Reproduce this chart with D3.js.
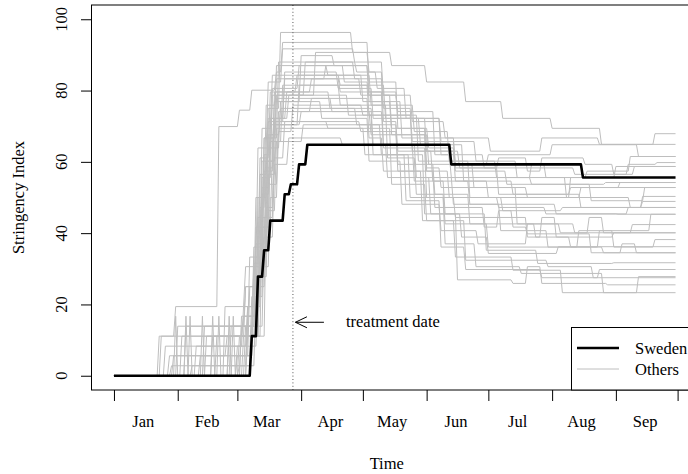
<!DOCTYPE html>
<html><head><meta charset="utf-8">
<script src="https://cdn.jsdelivr.net/npm/d3@7"></script>
<style>
html,body{margin:0;padding:0;background:#fff;}
svg{display:block;}
text{font-family:"Liberation Serif","Times New Roman",serif;fill:#000;}
</style></head>
<body><svg id="chart" width="688" height="474"></svg>
<script>
// ---------- data ----------
const startDate = "2020-01-01";
const endDate = "2020-09-30";
const treatmentDate = "2020-03-28";
const monthLabels = ["Jan","Feb","Mar","Apr","May","Jun","Jul","Aug","Sep"];
const yTicks = [0,20,40,60,80,100];
const arrowValue = 15;

// change points: [date (MM-DD, 2020), new value]; value is 0 before the first change
const sweden = [["03-08",11.1],["03-11",27.8],["03-14",35.2],["03-17",43.5],["03-24",50.9],["03-27",53.7],["03-31",59.3],["04-04",64.8],["06-13",59.3],["08-16",55.6]];

const others = [
 [["01-23",11.1],["01-31",19.4],["02-21",69.9],["03-02",74.5],["03-08",80.1],["03-20",85.2],["03-23",93.5],["05-04",82.4],["05-18",69.4],["06-02",63.9],["06-15",57.4],["07-10",53.7],["08-20",49.1],["09-15",52.8]],
 [["02-03",11.1],["03-05",25],["03-12",56.5],["03-16",75],["03-22",96.3],["04-26",90.7],["05-04",85.2],["05-11",75],["05-25",65.7],["06-15",58.3],["07-06",50.9],["08-15",47.2],["09-14",50.3]],
 [["01-31",16.7],["02-01",0],["02-07",16.7],["02-08",0],["02-13",16.7],["02-14",0],["02-21",16.7],["02-22",0],["02-28",16.7],["02-29",0],["03-06",19.4],["03-13",41.7],["03-17",72.2],["03-24",83.3],["04-20",79.6],["05-11",63.9],["06-01",50],["06-15",44.4],["07-20",38.9],["07-27",44.4],["08-03",38.9],["08-10",36.1],["08-24",40.7],["08-31",36.1],["09-20",38.2]],
 [["01-24",11.1],["03-04",16.7],["03-11",38.9],["03-14",62],["03-18",78.7],["04-03",88],["04-27",83.3],["05-11",71.3],["05-18",63],["06-04",54.6],["06-22",48.1],["08-03",45.4],["09-07",47.2]],
 [["01-28",5.6],["02-25",11.1],["03-09",30.6],["03-13",52.8],["03-17",70.4],["03-31",81.5],["04-20",75.9],["05-13",61.1],["05-27",50.9],["06-10",42.6],["07-01",36.1],["08-14",40.7],["09-18",45.3]],
 [["02-05",13.9],["03-10",33.3],["03-16",67.6],["03-20",87],["04-14",84.3],["05-01",76.9],["05-15",67.6],["06-01",58.3],["06-08",52.8],["07-15",42.6],["08-05",40.1],["08-19",44.4],["08-26",40.1],["09-09",42.4]],
 [["02-05",16.7],["02-06",0],["02-18",16.7],["02-19",0],["02-26",16.7],["02-27",0],["03-03",13.9],["03-11",27.8],["03-15",58.3],["03-19",72.2],["03-26",78.7],["04-24",73.1],["05-06",62],["05-22",49.1],["06-08",36.1],["06-20",29.8],["07-27",27.5],["08-24",29.8]],
 [["02-10",8.3],["03-06",19.4],["03-12",47.2],["03-15",63.9],["03-19",76.9],["04-01",89.8],["04-17",87],["05-04",76.9],["05-20",66.7],["06-15",59.3],["07-01",62],["08-01",64.8],["09-12",61.5]],
 [["01-30",5.6],["03-08",22.2],["03-14",44.4],["03-19",61.1],["03-24",71.3],["04-30",68.5],["05-18",57.4],["06-05",47.2],["06-29",41.7],["07-06",46.3],["07-13",41.7],["07-20",39.8],["08-20",34.5],["09-04",37],["09-11",34.5]],
 [["02-15",11.1],["03-12",36.1],["03-17",65.7],["03-23",81.5],["05-04",73.1],["05-25",63],["06-15",54.6],["07-01",50],["08-10",55.6],["09-01",58.7]],
 [["02-01",13.9],["03-05",25],["03-13",60.2],["03-20",78.7],["04-08",90.7],["05-15",87],["06-01",82.4],["06-20",76.9],["07-08",72.2],["08-01",69.4],["08-25",64.9],["09-20",67.9]],
 [["02-20",11.1],["03-10",27.8],["03-16",53.7],["03-21",74.1],["04-06",77.8],["05-04",66.7],["05-11",57.4],["05-30",43.5],["06-15",33.3],["07-13",29.6],["08-06",23.3],["09-12",27.8]],
 [["03-02",11.1],["03-09",36.1],["03-13",69.4],["03-18",84.3],["04-20",81.5],["05-12",72.2],["06-01",63],["06-17",58.3],["07-06",61.1],["07-20",57.4],["07-27",61.1],["08-17",59.3],["08-31",56.5],["09-07",59.3],["09-21",59.8]],
 [["01-29",2.8],["03-06",16.7],["03-11",50],["03-16",72.2],["03-25",79.6],["04-15",75],["05-06",64.8],["05-26",54.6],["06-10",45.4],["06-30",35.2],["07-25",31.5],["08-31",31.7]],
 [["03-04",11.1],["03-12",30.6],["03-17",50],["03-21",68.5],["03-28",75.9],["05-01",73.1],["05-28",60.2],["06-22",50],["07-08",46.3],["08-06",47.2],["09-14",48.9]],
 [["02-27",13.9],["03-10",41.7],["03-14",66.7],["03-21",88],["04-28",85.2],["05-08",80.6],["05-22",72.2],["06-08",65.7],["06-25",60.2],["07-15",55.6],["07-22",59.3],["07-29",55.6],["08-18",57.4],["09-08",61.5]],
 [["03-01",8.3],["03-11",25],["03-15",46.3],["03-20",65.7],["04-02",70.4],["05-10",62],["05-31",45.4],["06-18",38.9],["07-01",34.3],["08-04",36.2]],
 [["02-12",5.6],["03-07",25],["03-13",55.6],["03-18",80.6],["03-31",87],["04-22",82.4],["05-04",78.7],["05-18",74.1],["06-05",62],["06-13",55.6],["07-22",53.7],["08-27",54.2]],
 [["03-03",16.7],["03-10",37],["03-15",60.2],["03-19",71.3],["04-14",69.4],["05-15",53.7],["06-01",43.5],["06-20",32.4],["07-30",30.6],["08-21",27.5]],
 [["02-24",19.4],["03-05",30.6],["03-11",63.9],["03-16",82.4],["03-23",91.7],["04-27",88],["05-11",78.7],["05-25",71.3],["06-10",66.7],["07-02",63],["07-27",66.7],["08-24",64.9]],
 [["03-06",11.1],["03-13",41.7],["03-18",63.9],["03-22",76.9],["04-11",72.2],["05-04",60.2],["05-20",48.1],["06-08",40.7],["06-26",37],["07-20",42.6],["08-12",40.1]],
 [["02-08",2.8],["03-08",13.9],["03-14",38.9],["03-19",59.3],["03-26",66.7],["04-21",64.8],["05-13",55.6],["06-03",45.4],["06-16",26.9],["07-13",25.9],["07-20",30.6],["07-27",25.9],["08-28",25.5]],
 [["03-01",5.6],["03-09",27.8],["03-14",57.4],["03-19",79.6],["04-06",83.3],["04-30",78.7],["05-15",69.4],["06-01",57.4],["06-12",50],["07-06",47.2],["07-29",45.4],["09-02",45.3]],
 [["02-18",11.1],["03-11",44.4],["03-16",71.3],["03-24",85.2],["04-19",80.6],["05-06",72.2],["05-29",64.8],["06-19",54.6],["07-13",50.9],["08-10",52.8],["09-03",54.2]],
 [["03-05",13.9],["03-12",35.2],["03-16",56.5],["03-20",69.4],["05-02",62],["05-24",50],["06-10",37],["06-25",30.6],["07-17",28.7],["08-26",23.3]],
 [["01-26",8.3],["03-04",19.4],["03-10",50],["03-15",75.9],["03-20",83.3],["04-13",87],["05-04",79.6],["05-18",72.2],["06-08",62],["06-29",58.3],["08-12",56.5],["09-10",58.7]],
 [["03-08",11.1],["03-15",47.2],["03-19",70.4],["04-01",74.1],["05-11",64.8],["05-27",55.6],["06-14",48.1],["07-07",40.7],["07-30",36.1],["08-26",34.5]],
 [["02-14",13.9],["03-09",31.5],["03-14",66.7],["03-20",77.8],["04-16",74.1],["05-05",67.6],["06-02",59.3],["06-24",52.8],["07-20",50],["08-15",52.8]],
 [["03-02",2.8],["03-10",22.2],["03-13",50.9],["03-17",67.6],["03-22",75],["04-28",70.4],["05-18",59.3],["06-05",50.9],["06-22",42.6],["07-24",38.9],["08-31",40.1]],
 [["02-26",11.1],["03-07",33.3],["03-12",61.1],["03-17",79.6],["03-30",84.3],["05-05",75.9],["05-26",68.5],["06-12",60.2],["07-05",55.6],["08-08",50],["09-08",47.2]]
];

// ---------- layout ----------
const W = 688, H = 474;
const box = {left: 91.5, right: 698, top: 5, bottom: 390};
const parse = d3.timeParse("%Y-%m-%d");
const md = s => parse("2020-" + s);
const t0 = parse(startDate), t1 = parse(endDate);

const padX = (box.right - box.left) * 0.04 / 1.08;
const x = d3.scaleTime().domain([t0, t1]).range([box.left + padX, box.right - padX]);
const y = d3.scaleLinear().domain([-4, 104]).range([box.bottom, box.top]);

const svg = d3.select("#chart");

// expand change points into the daily series shape (each change spans one day)
function toPoints(changes) {
  const pts = [[t0, 0]];
  let prev = 0;
  changes.forEach(([d, v]) => {
    const dt = md(d);
    pts.push([d3.timeDay.offset(dt, -1), prev]);
    pts.push([dt, v]);
    prev = v;
  });
  pts.push([t1, prev]);
  return pts;
}
const line = d3.line().x(d => x(d[0])).y(d => y(d[1]));

const plot = svg.append("g");
plot.append("defs").append("clipPath").attr("id","clip")
  .append("rect").attr("x", box.left).attr("y", box.top)
  .attr("width", box.right - box.left).attr("height", box.bottom - box.top);
const lines = plot.append("g").attr("clip-path","url(#clip)");

others.forEach(s => {
  lines.append("path").attr("d", line(toPoints(s)))
    .attr("fill","none").attr("stroke","#bebebe").attr("stroke-width",1);
});
lines.append("path").attr("d", line(toPoints(sweden)))
  .attr("fill","none").attr("stroke","#000").attr("stroke-width",2.6)
  .attr("stroke-linejoin","round");

// treatment date
const tx = x(parse(treatmentDate));
plot.append("line").attr("x1",tx).attr("x2",tx).attr("y1",box.top).attr("y2",box.bottom)
  .attr("stroke","#555").attr("stroke-width",1).attr("stroke-dasharray","1,2.4");

// arrow
const ay = y(arrowValue);
const ag = plot.append("g").attr("stroke","#000").attr("stroke-width",1).attr("fill","none");
ag.append("line").attr("x1", tx + 31).attr("x2", tx + 2.5).attr("y1", ay).attr("y2", ay);
ag.append("path").attr("d", `M${tx+14},${ay-5.5}L${tx+2.5},${ay}L${tx+14},${ay+5.5}`);
plot.append("text").attr("x", tx + 53).attr("y", ay + 5).attr("font-size", 16.5).text("treatment date");

// box
svg.append("rect").attr("x", box.left).attr("y", box.top)
  .attr("width", box.right - box.left).attr("height", box.bottom - box.top)
  .attr("fill","none").attr("stroke","#000").attr("stroke-width",1);

// x axis ticks (month starts)
const monthStarts = d3.timeMonth.range(t0, parse("2020-10-02"));
const xAxis = d3.axisBottom(x).tickValues(monthStarts).tickSize(11).tickFormat("").tickSizeOuter(0);
const gx = svg.append("g").attr("transform", `translate(0,${box.bottom})`).call(xAxis);
gx.select(".domain").remove();
gx.selectAll("line").attr("stroke","#000");

// month labels (mid-month)
const mids = monthLabels.map((m, i) => new Date(2020, i, 15));
const xLab = d3.axisBottom(x).tickValues(mids).tickSize(0).tickPadding(0)
  .tickFormat((d, i) => monthLabels[i]);
const gxl = svg.append("g").attr("transform", `translate(0,${box.bottom})`).call(xLab);
gxl.select(".domain").remove();
gxl.selectAll("text").attr("font-size",16.5).attr("font-family",'"Liberation Serif",serif')
  .attr("dy", null).attr("y", 36.5).attr("fill","#000");

// y axis
const yAxis = d3.axisLeft(y).tickValues(yTicks).tickSize(10.5).tickFormat("");
const gy = svg.append("g").attr("transform", `translate(${box.left},0)`).call(yAxis);
gy.select(".domain").remove();
gy.selectAll("line").attr("stroke","#000");
svg.append("g").selectAll("text").data(yTicks).join("text")
  .attr("transform", d => `translate(66.5,${y(d)}) rotate(-90)`)
  .attr("text-anchor","middle").attr("font-size",16.5).text(d => d);

// axis titles
svg.append("text").attr("x", (box.left + box.right) / 2 - 8).attr("y", 468.5)
  .attr("text-anchor","middle").attr("font-size",16.5).text("Time");
svg.append("text").attr("transform", `translate(23.5,${(box.top + box.bottom) / 2}) rotate(-90)`)
  .attr("text-anchor","middle").attr("font-size",16.5).text("Stringency Index");

// legend
const lg = svg.append("g");
lg.append("rect").attr("x", 571.5).attr("y", 327.5).attr("width", 150).attr("height", box.bottom - 327.5)
  .attr("fill","#fff").attr("stroke","#000").attr("stroke-width",1);
lg.append("line").attr("x1",577).attr("x2",619).attr("y1",348).attr("y2",348)
  .attr("stroke","#000").attr("stroke-width",2.6);
lg.append("line").attr("x1",577).attr("x2",619).attr("y1",369).attr("y2",369)
  .attr("stroke","#bebebe").attr("stroke-width",1);
lg.append("text").attr("x",635).attr("y",353.5).attr("font-size",16.5).text("Sweden");
lg.append("text").attr("x",635).attr("y",374.5).attr("font-size",16.5).text("Others");
</script></body></html>
